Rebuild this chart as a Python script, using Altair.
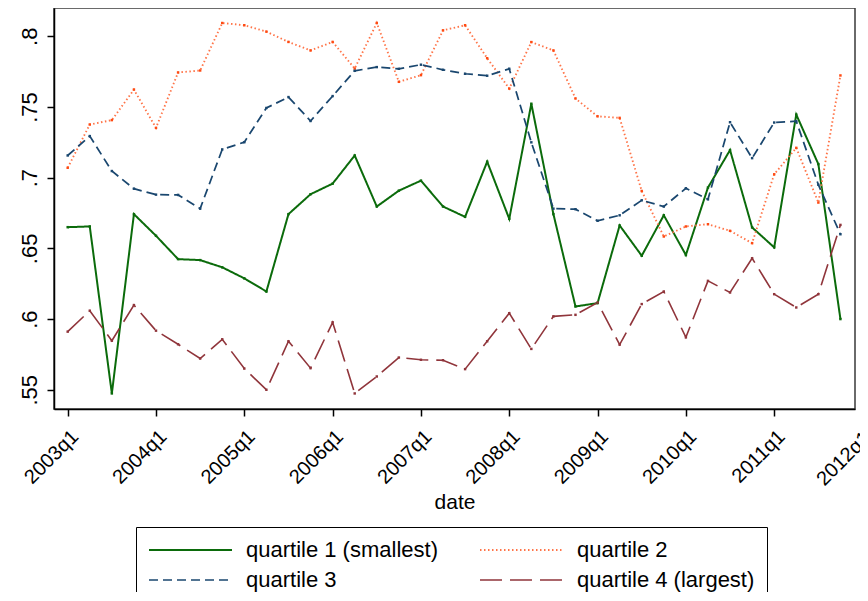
import altair as alt
import pandas as pd

# quarter index 0 = 2003q1 ... 35 = 2011q4
quarters = list(range(36))

q1 = [0.665, 0.6655, 0.5474, 0.6742, 0.6589, 0.6424, 0.6417, 0.6366, 0.6288,
      0.6195, 0.6742, 0.6883, 0.6958, 0.7157, 0.6796, 0.6908, 0.6979, 0.6796,
      0.6723, 0.7113, 0.6709, 0.7523, 0.6742, 0.6089, 0.6113, 0.6662, 0.6448,
      0.6734, 0.6453, 0.6930, 0.7195, 0.6648, 0.6507, 0.7446, 0.7096, 0.6000]
q2 = [0.707, 0.7376, 0.7407, 0.7623, 0.7352, 0.7744, 0.7758, 0.8094, 0.8078,
      0.8033, 0.7960, 0.7900, 0.7960, 0.7772, 0.8094, 0.7678, 0.7725, 0.8042,
      0.8078, 0.7845, 0.7630, 0.7959, 0.7900, 0.7560, 0.7434, 0.7423, 0.6906,
      0.6584, 0.6655, 0.6671, 0.6624, 0.6537, 0.7024, 0.7211, 0.6824, 0.7723]
q3 = [0.7157, 0.7294, 0.7047, 0.6922, 0.6880, 0.6878, 0.6781, 0.7200, 0.7251,
      0.7493, 0.7570, 0.7401, 0.7577, 0.7756, 0.7782, 0.7770, 0.7799, 0.7763,
      0.7735, 0.7721, 0.7770, 0.7250, 0.6781, 0.6777, 0.6695, 0.6734, 0.6840,
      0.6796, 0.6925, 0.6847, 0.7392, 0.7138, 0.7390, 0.7399, 0.6950, 0.6600]
q4 = [0.5911, 0.6059, 0.5847, 0.6099, 0.5918, 0.5822, 0.5721, 0.5857, 0.5650,
      0.5500, 0.5843, 0.5653, 0.5977, 0.5474, 0.5594, 0.5728, 0.5712, 0.5709,
      0.5646, 0.5843, 0.6042, 0.5789, 0.6019, 0.6030, 0.6117, 0.5819, 0.6106,
      0.6195, 0.5871, 0.6270, 0.6188, 0.6430, 0.6176, 0.6082, 0.6176, 0.6666]

series_names = ["quartile 1 (smallest)", "quartile 2", "quartile 3", "quartile 4 (largest)"]
series_colors = ["#0b6b0b", "#ff7448", "#1a476f", "#90353b"]
marker_colors = ["#0b6b0b", "#ff4a12", "#1a476f", "#90353b"]
series_dash = [[1, 0], [1.5, 2.5], [9, 5], [22, 8]]
series_width = [2, 1.6, 2, 2]

x_tick_values = [0, 4, 8, 12, 16, 20, 24, 28, 32, 36]
y_tick_values = [0.55, 0.6, 0.65, 0.7, 0.75, 0.8]

rows = []
for name, col, vals in zip(series_names, marker_colors, [q1, q2, q3, q4]):
    for q, v in zip(quarters, vals):
        rows.append({"q": q, "value": v, "series": name, "hex": col})
df = pd.DataFrame(rows)

# last tick (2012q1) lies just beyond the plot frame, as in the original
last_tick = pd.DataFrame({
    "q": [x_tick_values[-1]],
    "label": [f"{2003 + x_tick_values[-1] // 4}q1"],
})

FONT = "Liberation Sans"
PLOT_H = 401
LABEL_PAD = 10
X_LABEL_SIZE = 20

x_scale = alt.Scale(domain=[-0.62, 35.66], nice=False, zero=False)

x_enc = alt.X(
    "q:Q",
    scale=x_scale,
    axis=alt.Axis(
        values=x_tick_values,
        labelExpr="(2003 + datum.value / 4) + 'q1'",
        labelAngle=315,
        labelAlign="right",
        labelBaseline="top",
        labelPadding=LABEL_PAD,
        labelFontSize=X_LABEL_SIZE,
        labelOverlap=False,
        labelFlush=False,
        labelBound=False,
        tickSize=7,
        tickWidth=1.5,
        tickColor="black",
        domainColor="black",
        domainWidth=1.5,
        grid=False,
        title="date",
        titleFontSize=21,
        titleFontWeight="normal",
        titleY=99,
        titleBaseline="alphabetic",
    ),
)
y_enc = alt.Y(
    "value:Q",
    scale=alt.Scale(domain=[0.5364, 0.82], nice=False, zero=False),
    axis=alt.Axis(
        values=y_tick_values,
        labelExpr="substring(format(datum.value, '.2~f'), 1)",
        labelAngle=270,
        labelAlign="center",
        labelBaseline="alphabetic",
        labelPadding=11,
        labelFontSize=22,
        labelOverlap=False,
        labelFlush=False,
        tickSize=7,
        tickWidth=1.5,
        tickColor="black",
        domainColor="black",
        domainWidth=1.5,
        grid=False,
        title=None,
    ),
)


def make_legend():
    return alt.Legend(
        orient="none",
        legendX=82,
        legendY=519,
        columns=2,
        direction="horizontal",
        title=None,
        symbolType="stroke",
        symbolSize=6889,
        clipHeight=22,
        labelFontSize=22,
        labelOffset=13,
        labelLimit=500,
        columnPadding=41,
        rowPadding=8,
        padding=12,
        strokeColor="black",
        fillColor="white",
    )


lines = alt.Chart(df).mark_line(interpolate="linear").encode(
    x=x_enc,
    y=y_enc,
    color=alt.Color(
        "series:N",
        scale=alt.Scale(domain=series_names, range=series_colors),
        legend=make_legend(),
    ),
    strokeDash=alt.StrokeDash(
        "series:N",
        scale=alt.Scale(domain=series_names, range=series_dash),
        legend=make_legend(),
    ),
    strokeWidth=alt.StrokeWidth(
        "series:N",
        scale=alt.Scale(domain=series_names, range=series_width),
        legend=make_legend(),
    ),
    detail="series:N",
)

points = alt.Chart(df).mark_point(shape="square", filled=True, size=6, opacity=1).encode(
    x=alt.X("q:Q"),
    y=alt.Y("value:Q"),
    color=alt.Color("hex:N", scale=None),
)

end_tick = alt.Chart(last_tick).mark_rule(color="black", strokeWidth=1.5).encode(
    x=alt.X("q:Q"),
    y=alt.value(PLOT_H),
    y2=alt.value(PLOT_H + 7),
)

end_label = alt.Chart(last_tick).mark_text(
    angle=315, align="right", baseline="top", fontSize=X_LABEL_SIZE, font=FONT,
    color="black", dx=-3,
).encode(
    x=alt.X("q:Q"),
    y=alt.value(PLOT_H + 7 + LABEL_PAD),
    text="label:N",
)

chart = alt.layer(lines, points, end_tick, end_label).properties(
    width=801,
    height=PLOT_H,
    autosize=alt.AutoSizeParams(type="none"),
    padding={"left": 46, "top": 0, "right": 5, "bottom": 183},
).configure(
    font=FONT,
).configure_view(
    stroke="#3a3a3a",
    strokeWidth=1.5,
).configure_axis(
    labelColor="black",
    titleColor="black",
    labelFont=FONT,
    titleFont=FONT,
).configure_legend(
    labelFont=FONT,
    labelColor="black",
)

chart.save("out.html", embed_options={"renderer": "svg", "actions": False})
